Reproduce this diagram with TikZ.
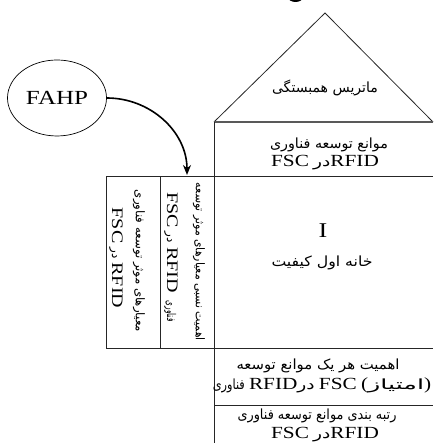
\documentclass[tikz,border=0pt]{standalone}
\usepackage{fontspec}
\usepackage{graphicx}
\setmainfont{Liberation Serif}
\newfontfamily\farsifont[Script=Arabic]{DejaVu Sans}
\TeXXeTstate=1
\usetikzlibrary{arrows.meta,shapes.geometric}
% Persian words in DejaVu Sans; \faw stretches a Persian run to a given width
% while keeping its height; Latin words slightly widened
\newcommand\fa[1]{\scalebox{1.33}[1]{\farsifont\fontsize{14}{16}\selectfont #1}}
\newcommand\faw[2]{\resizebox{#1}{\height}{\farsifont\fontsize{14}{16}\selectfont #2}}
\newcommand\fr[1]{{\farsifont\fontsize{12}{14}\selectfont #1}}
\newcommand\frw[2]{\resizebox{#1}{\height}{\farsifont\fontsize{12}{14}\selectfont #2}}
\newcommand\lt[1]{\scalebox{1.25}[1]{#1}}

\begin{document}
\begin{tikzpicture}[x=1pt,y=1pt,
  frame/.style={line width=0.8pt, draw=black!85},
  heavy/.style={line width=1.6pt, draw=black!65},
  lbl/.style={inner sep=0pt, font=\fontsize{17}{20}\selectfont},
  rlbl/.style={inner sep=0pt, font=\fontsize{16}{19}\selectfont, rotate=-90},
  bubble/.style={ellipse, draw, line width=0.7pt, minimum width=99pt, minimum height=76pt, inner sep=0pt, font=\fontsize{20}{24}\selectfont},
  flow/.style={line width=1.6pt, -{Stealth[length=10pt,width=8pt]}}]
\useasboundingbox (0,0) rectangle (433,443);

% glyph cut by the upper edge
\begin{scope}
  \clip (0,0) rectangle (433,443);
  \fill (295.5,446) ellipse (7.5 and 5);
\end{scope}

% roof of the house
\draw[frame] (214,321) -- (325,430) -- (433,321);
\draw[heavy] (214,321) -- (433,321);

% grid of the house of quality
\draw[frame] (214,0) -- (214,321);
\draw[frame] (106,267) -- (433,267);
\draw[frame] (106,95) -- (433,95);
\draw[frame] (106,95) -- (106,267);
\draw[frame] (160,95) -- (160,267);
\draw[frame] (214,38) -- (433,38);

% roof and ceiling texts
\node[lbl] (corr) at (325,355) {\faw{106pt}{\beginR ماتریس همبستگی\endR}};
\node[lbl] (bar1) at (329,298) {\faw{118pt}{\beginR موانع توسعه فناوری\endR}};
\node[lbl] (bar2) at (325,280) {\lt{FSC} \fa{در}\lt{RFID}};

% body of the house
\node[lbl, font=\fontsize{21}{24}\selectfont] (hoq1) at (323,212) {\lt{I}};
\node[lbl] (hoq2) at (322,180) {\faw{101pt}{\beginR خانه اول کیفیت\endR}};

% basement rows
\node[lbl] (imp1) at (318,77) {\faw{163pt}{\beginR اهمیت هر یک موانع توسعه\endR}};
\node[lbl] (imp2) at (322,58) {\faw{32pt}{فناوری} \lt{RFID}\fa{در} \lt{FSC} \lt{(}\faw{56pt}{امتیاز}\lt{)}};
\node[lbl] (rank1) at (317,27) {\faw{159pt}{\beginR رتبه بندی موانع توسعه فناوری\endR}};
\node[lbl] (rank2) at (325,8) {\lt{FSC} \fa{در}\lt{RFID}};

% criteria columns, set sideways
\node[rlbl] (wa) at (199,181) {\frw{158pt}{\beginR اهمیت نسبی معیارهای موثر توسعه\endR}};
\node[rlbl] (wb) at (171,186) {\lt{FSC} \fr{در} \lt{RFID}\hspace{8pt}\frw{21pt}{فناوری}};
\node[rlbl] (ca) at (139,182) {\frw{142pt}{\beginR معیارهای موثر توسعه فناوری\endR}};
\node[rlbl] (cb) at (116,185) {\lt{FSC} \fr{در} \lt{RFID}};

% FAHP feeding the criteria weights
\node[bubble] (fahp) at (57,345) {\lt{FAHP}};
\coordinate (wtop) at (187,268);
\draw[flow] (fahp.east) to[out=0,in=90] (wtop);
\end{tikzpicture}
\end{document}
